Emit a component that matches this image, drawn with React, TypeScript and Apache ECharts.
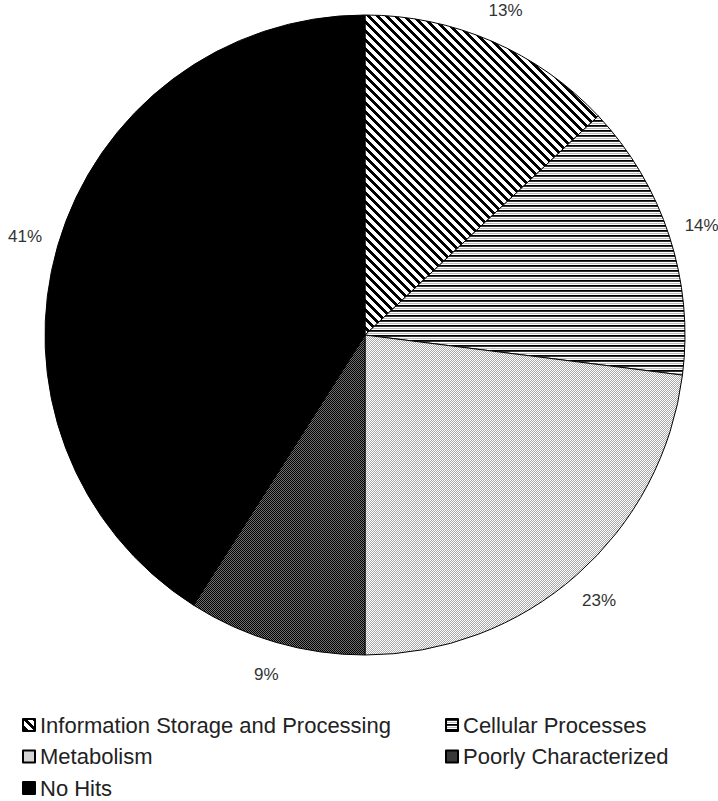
import React, { useEffect, useRef } from "react";
import * as echarts from "echarts";

const categories = [
  "Information Storage and Processing",
  "Cellular Processes",
  "Metabolism",
  "Poorly Characterized",
  "No Hits",
];
const values = [13, 14, 23, 9, 41];
const legendLeft = ["Information Storage and Processing", "Metabolism", "No Hits"];
const legendRight = ["Cellular Processes", "Poorly Characterized"];

function makeTile(w: number, h: number, fn: (x: number, y: number) => string) {
  const c = document.createElement("canvas");
  c.width = w;
  c.height = h;
  const ctx = c.getContext("2d")!;
  for (let y = 0; y < h; y++) {
    for (let x = 0; x < w; x++) {
      ctx.fillStyle = fn(x, y);
      ctx.fillRect(x, y, 1, 1);
    }
  }
  return { image: c, repeat: "repeat", imageWidth: w, imageHeight: h } as any;
}

function patterns() {
  const diag = makeTile(9, 9, (x, y) => {
    const d = (((x - y) % 9) + 9) % 9;
    return d < 4 ? "#000000" : "#ffffff";
  });
  const horiz = makeTile(1, 5, (_x, y) => ["#000000", "#333333", "#ffffff", "#bbbbbb", "#ffffff"][y]);
  const light = makeTile(2, 2, (x, y) => ((x + y) % 2 === 0 ? "#ffffff" : "#a8a8a8"));
  const dark = makeTile(2, 2, (x, y) => ((x + y) % 2 === 0 ? "#000000" : "#707070"));
  return [diag, horiz, light, dark, "#000000"];
}

export default function App() {
  const ref = useRef<HTMLDivElement>(null);
  useEffect(() => {
    const chart = echarts.init(ref.current!, null, { renderer: "svg" });
    const fills = patterns();
    const data = categories.map((name, i) => ({
      name,
      value: values[i],
      itemStyle: { color: fills[i] },
    }));
    const labelData = categories.map((name, i) => ({ name, value: values[i] }));
    const legendCommon = {
      orient: "vertical",
      itemWidth: 12,
      itemHeight: 12,
      itemGap: 9.5,
      padding: 0,
      icon: "rect",
      selectedMode: false,
      textStyle: {
        fontFamily: "Liberation Sans, Arial, sans-serif",
        fontSize: 22,
        lineHeight: 22,
        color: "#222",
      },
    };
    chart.setOption({
      animation: false,
      backgroundColor: "#ffffff",
      legend: [
        { ...legendCommon, left: 22, top: 714, data: legendLeft },
        { ...legendCommon, left: 445, top: 714, data: legendRight },
      ],
      series: [
        {
          type: "pie",
          center: [365, 335],
          radius: [0, 320],
          startAngle: 90,
          clockwise: true,
          avoidLabelOverlap: false,
          silent: true,
          label: { show: false },
          labelLine: { show: false },
          itemStyle: { borderColor: "#000", borderWidth: 1 },
          data,
        },
        {
          type: "pie",
          center: [365, 335],
          radius: [340, 362],
          startAngle: 90,
          clockwise: true,
          avoidLabelOverlap: false,
          silent: true,
          itemStyle: { color: "transparent", borderWidth: 0 },
          label: {
            show: true,
            position: "inside",
            formatter: "{c}%",
            fontFamily: "Liberation Sans, Arial, sans-serif",
            fontSize: 17,
            color: "#333",
          },
          labelLine: { show: false },
          data: labelData,
        },
      ],
    } as any);
    return () => chart.dispose();
  }, []);
  return (
    <div
      ref={ref}
      style={{ position: "absolute", left: 0, top: 0, width: 718, height: 801 }}
    />
  );
}
